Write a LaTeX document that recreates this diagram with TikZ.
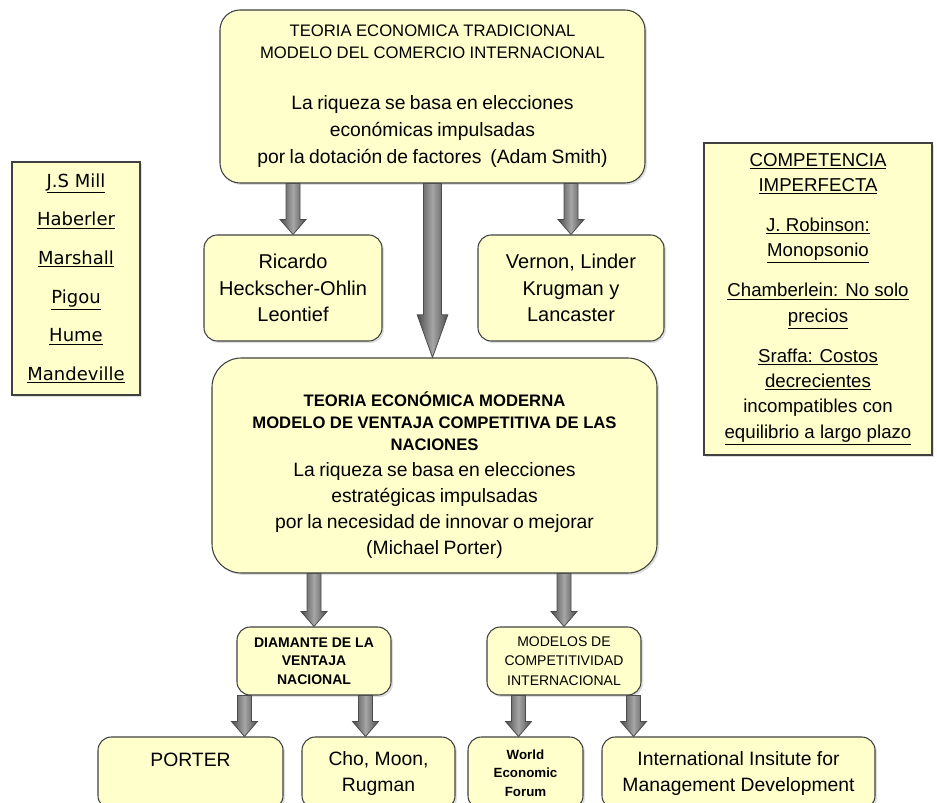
\documentclass[tikz,border=0pt]{standalone}
\usepackage{fontspec}
\setmainfont{Liberation Sans}
\newfontfamily\letraancha{DejaVu Sans}
\usetikzlibrary{calc,shadows}
\definecolor{amarillo}{RGB}{255,255,204}
\definecolor{borde}{RGB}{64,64,64}
% flecha gruesa: desde, hasta, medio cuerpo, media punta, largo punta
\newcommand{\flecha}[5]{\path[flechaestilo] let \p1=(#1), \p2=(#2) in (\x1-#3,\y1) -- (\x1-#3,\y2+#5) -- (\x1-#4,\y2+#5) -- (\x1,\y2) -- (\x1+#4,\y2+#5) -- (\x1+#3,\y2+#5) -- (\x1+#3,\y1) -- cycle;}

\begin{document}
\begin{tikzpicture}[x=0.75pt,y=-0.75pt]
        \tikzstyle{caja}=[draw=borde,fill=amarillo,line width=0.8pt,rounded corners=10pt,align=center,inner sep=2pt,drop shadow={shadow xshift=1.5pt,shadow yshift=-1.5pt,opacity=0.25}]
        \tikzstyle{plana}=[caja,rounded corners=0pt]
        \tikzstyle{flechaestilo}=[draw=black!70,line width=0.6pt,left color=black!70,right color=black!70,middle color=black!35]
        \useasboundingbox (0,0) rectangle (937,802);
        \clip (0,0) rectangle (937,802);
        % cajas
        \node[caja,rounded corners=15pt,minimum width=318.75pt,minimum height=129.75pt,text width=312pt] (tradicional) at (432.5,96.5) {{\fontsize{12.5}{16.5}\selectfont TEORIA ECONOMICA TRADICIONAL\\MODELO DEL COMERCIO INTERNACIONAL\par}\vspace{17.5pt}{\fontsize{14.5}{20.5}\selectfont La riqueza se basa en elecciones\\económicas impulsadas\\por la dotación de factores\ \ (Adam Smith)\par}};
        \node[caja,minimum width=133.5pt,minimum height=79.5pt,font=\fontsize{15}{20}\selectfont] (ricardo) at (293,288) {Ricardo\\Heckscher-Ohlin\\Leontief};
        \node[caja,minimum width=139.5pt,minimum height=79.5pt,font=\fontsize{15}{20}\selectfont] (vernon) at (571,288) {Vernon, Linder\\Krugman y\\Lancaster};
        \node[caja,rounded corners=22pt,minimum width=333.75pt,minimum height=161.25pt,text width=327pt] (moderna) at (434.5,465.5) {{\bfseries\fontsize{12.5}{16.5}\selectfont \rule{0pt}{26pt}TEORIA ECONÓMICA MODERNA\\MODELO DE VENTAJA COMPETITIVA DE LAS\\NACIONES\par}{\fontsize{14.5}{19.5}\selectfont La riqueza se basa en elecciones\\estratégicas impulsadas\\por la necesidad de innovar o mejorar\\(Michael Porter)\par}};
        \node[plana,minimum width=96pt,minimum height=174.75pt,font=\letraancha\fontsize{13.5}{29}\selectfont] (clasicos) at (76,278.5) {\underline{J.S Mill}\\\underline{Haberler}\\\underline{Marshall}\\\underline{Pigou}\\\underline{Hume}\\\underline{Mandeville}};
        \node[plana,minimum width=171pt,minimum height=234pt,font=\fontsize{14}{19}\selectfont] (imperfecta) at (818,299) {\underline{COMPETENCIA}\\\underline{IMPERFECTA}\\[11pt]\underline{J. Robinson:}\\\underline{Monopsonio}\\[11pt]\underline{Chamberlein: No solo}\\\underline{precios}\\[11pt]\underline{Sraffa: Costos}\\\underline{decrecientes}\\incompatibles con\\\underline{equilibrio a largo plazo}};
        \node[caja,minimum width=115.5pt,minimum height=51pt,font=\bfseries\fontsize{10.5}{14}\selectfont] (diamante) at (314,661) {DIAMANTE DE LA\\VENTAJA\\NACIONAL};
        \node[caja,minimum width=115.5pt,minimum height=51pt,font=\fontsize{10.5}{14.5}\selectfont] (modelos) at (564,661) {MODELOS DE\\COMPETITIVIDAD\\INTERNACIONAL};
        \node[caja,minimum width=138.75pt,minimum height=54pt,font=\fontsize{14.5}{19.5}\selectfont] (porter) at (190.5,773) {PORTER\\\mbox{}};
        \node[caja,minimum width=114.75pt,minimum height=54pt,font=\fontsize{14.5}{19.5}\selectfont] (cho) at (378.5,773) {Cho, Moon,\\Rugman};
        \node[caja,minimum width=86.25pt,minimum height=54pt,font=\bfseries\fontsize{10}{14}\selectfont] (wef) at (525.5,773) {World\\Economic\\Forum};
        \node[caja,minimum width=204.75pt,minimum height=54pt,font=\fontsize{14.5}{19.5}\selectfont] (iimd) at (738.5,773) {International Insitute for\\Management Development};
        % flechas
        \flecha{tradicional.south -| ricardo.north}{ricardo.north}{5.25pt}{9.75pt}{11.25pt}
        \flecha{tradicional.south -| vernon.north}{vernon.north}{5.25pt}{9.75pt}{11.25pt}
        \flecha{tradicional.south}{moderna.north}{6.75pt}{11.5pt}{32pt}
        \flecha{moderna.south -| diamante.north}{diamante.north}{5.25pt}{9.75pt}{11.25pt}
        \flecha{moderna.south -| modelos.north}{modelos.north}{5.25pt}{9.75pt}{11.25pt}
        \flecha{[xshift=6pt]diamante.south west}{porter.north}{5.25pt}{9.75pt}{11.25pt}
        \flecha{[xshift=-19.5pt]diamante.south east}{cho.north}{5.25pt}{9.75pt}{11.25pt}
        \flecha{[xshift=24pt]modelos.south west}{wef.north}{5.25pt}{9.75pt}{11.25pt}
        \flecha{[xshift=-6pt]modelos.south east}{iimd.north}{5.25pt}{9.75pt}{11.25pt}
    \end{tikzpicture}
\end{document}
